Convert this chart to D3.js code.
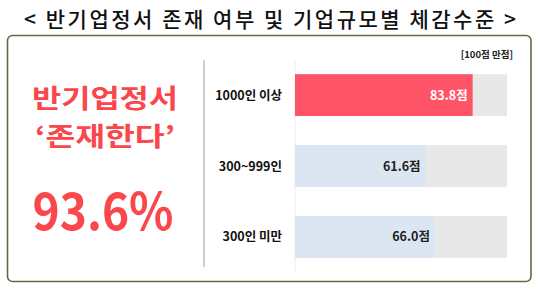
<!DOCTYPE html>
<html>
<head>
<meta charset="utf-8">
<script src="https://cdn.jsdelivr.net/npm/d3@7"></script>
<style>
body{margin:0;background:#fff;}
text{font-family:"Noto Sans CJK KR","Noto Sans",sans-serif;}
</style>
</head>
<body>
<div id="chart"></div>
<script>
var title = "< 반기업정서 존재 여부 및 기업규모별 체감수준 >";
var headLines = ["반기업정서", "‘존재한다’"];
var headValue = 93.6;
var groups = ["1000인 이상", "300~999인", "300인 미만"];
var scores = [83.8, 61.6, 66.0];
var maxScore = 100;
var unitNote = "[100점 만점]";

var w = 540, h = 289;
var svg = d3.select("#chart").append("svg").attr("width", w).attr("height", h);

// title
svg.append("text")
	.attr("x", w/2).attr("y", 27)
	.attr("text-anchor", "middle")
	.attr("font-size", 21)
	.attr("font-weight", 500)
	.attr("fill", "#111")
	.attr("textLength", 492)
	.text(title);

// outer box
svg.append("rect")
	.attr("x", 7.5).attr("y", 35.5)
	.attr("width", 523.5).attr("height", 246)
	.attr("rx", 5)
	.attr("fill", "#fff")
	.attr("stroke", "#6b6446")
	.attr("stroke-width", 1.6);

// left block
var headW = [146, 140];
svg.selectAll(".head")
	.data(headLines)
	.enter().append("text")
	.attr("class", "head")
	.attr("x", 105)
	.attr("y", function(d, i){ return 107.5 + i*38.5; })
	.attr("text-anchor", "middle")
	.attr("font-size", 26.5)
	.attr("font-weight", 600)
	.attr("fill", "#f9474c")
	.attr("textLength", function(d, i){ return headW[i]; })
	.attr("lengthAdjust", "spacingAndGlyphs")
	.text(function(d){ return d; });

svg.append("text")
	.attr("x", 103).attr("y", 230)
	.attr("text-anchor", "middle")
	.attr("font-size", 51)
	.attr("font-weight", 700)
	.attr("fill", "#f9474c")
	.attr("textLength", 141)
	.attr("lengthAdjust", "spacingAndGlyphs")
	.text(headValue.toFixed(1) + "%");

// divider
svg.append("line")
	.attr("x1", 204).attr("x2", 204)
	.attr("y1", 60).attr("y2", 267)
	.attr("stroke", "#cfcfcf")
	.attr("stroke-width", 2);

var x = d3.scaleLinear().domain([0, maxScore]).range([295, 507]);
var y = d3.scaleBand().domain(groups).range([60, 272]).paddingInner(0.41).paddingOuter(0.2);

svg.append("line")
	.attr("x1", x(0)).attr("x2", x(0))
	.attr("y1", 60).attr("y2", 272)
	.attr("stroke", "#eeeeee")
	.attr("stroke-width", 1);

svg.append("text")
	.attr("x", 513).attr("y", 58)
	.attr("text-anchor", "end")
	.attr("font-size", 9.5)
	.attr("font-weight", 700)
	.attr("fill", "#222")
	.text(unitNote);

var rows = svg.selectAll(".row")
	.data(groups)
	.enter().append("g")
	.attr("class", "row");

rows.append("rect")
	.attr("x", x(0))
	.attr("y", function(d){ return y(d); })
	.attr("width", x(maxScore) - x(0))
	.attr("height", y.bandwidth())
	.attr("fill", "#e8e8e8");

rows.append("rect")
	.attr("x", x(0))
	.attr("y", function(d){ return y(d); })
	.attr("width", function(d, i){ return x(scores[i]) - x(0); })
	.attr("height", y.bandwidth())
	.attr("fill", function(d, i){ return i == 0 ? "#ff5468" : "#dce6f2"; });

rows.append("text")
	.attr("x", 282)
	.attr("y", function(d){ return y(d) + y.bandwidth()/2 + 4.5; })
	.attr("text-anchor", "end")
	.attr("font-size", 12.5)
	.attr("font-weight", 700)
	.attr("fill", "#111")
	.text(function(d){ return d; });

rows.append("text")
	.attr("x", function(d, i){ return x(scores[i]) - 5; })
	.attr("y", function(d){ return y(d) + y.bandwidth()/2 + 4.5; })
	.attr("text-anchor", "end")
	.attr("font-size", 12.5)
	.attr("font-weight", 700)
	.attr("fill", function(d, i){ return i == 0 ? "#fff" : "#222"; })
	.text(function(d, i){ return scores[i].toFixed(1) + "점"; });
</script>
</body>
</html>
